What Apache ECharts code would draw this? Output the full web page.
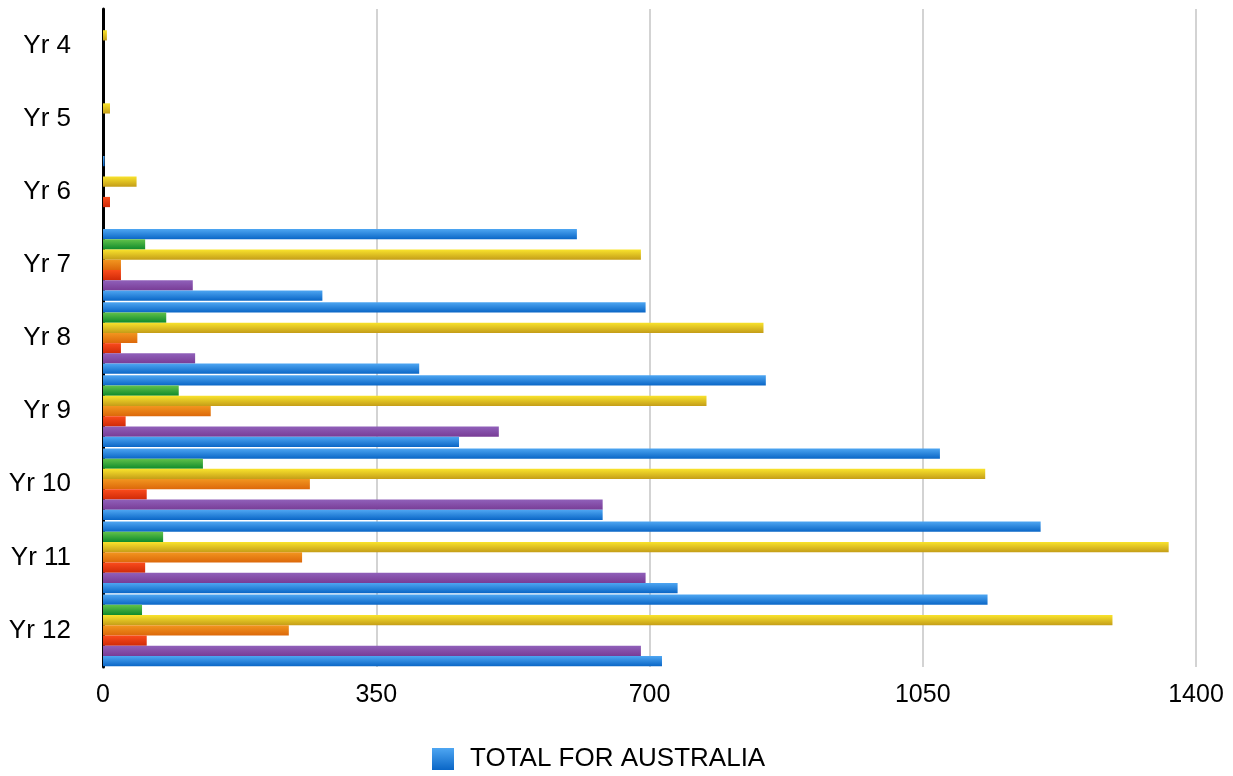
<!DOCTYPE html>
<html>
<head>
<meta charset="utf-8">
<script src="https://cdn.jsdelivr.net/npm/echarts@6/dist/echarts.min.js"></script>
<style>
html,body{margin:0;padding:0;background:#fff;}
#chart{width:1233px;height:776px;}
</style>
</head>
<body>
<div id="chart"></div>
<script>
var categories = ['Yr 4','Yr 5','Yr 6','Yr 7','Yr 8','Yr 9','Yr 10','Yr 11','Yr 12'];
var xTicks = [0, 350, 700, 1050, 1400];

var blueA  = [0, 0, 2, 607, 695, 849, 1072, 1201, 1133];
var green  = [0, 0, 0, 54, 81, 97, 128, 77, 50];
var yellow = [5, 9, 43, 689, 846, 773, 1130, 1365, 1293];
var orange = [0, 0, 0, 23, 44, 138, 265, 255, 238];
var red    = [0, 0, 9, 23, 23, 29, 56, 54, 56];
var purple = [0, 0, 0, 115, 118, 507, 640, 695, 689];
var blueB  = [0, 0, 0, 281, 405, 456, 640, 736, 716];

var seriesNames = ['TOTAL FOR AUSTRALIA','Series 2','Series 3','Series 4','Series 5','Series 6','Series 7'];
var seriesData = [blueA, green, yellow, orange, red, purple, blueB];
var gradients = [
  ['#4ea6f2','#0a66c6'],
  ['#62c24a','#0e8a2c'],
  ['#f9e32c','#c49d18'],
  ['#f2961f','#dc680a'],
  ['#fa4c1c','#d02a08'],
  ['#9060ba','#783c96'],
  ['#4ea6f2','#0a66c6']
];

function grad(c){
  return new echarts.graphic.LinearGradient(0,0,0,1,[{offset:0,color:c[0]},{offset:1,color:c[1]}]);
}

var font = '"Liberation Sans", Arial, Helvetica, sans-serif';

var series = seriesData.map(function(d,i){
  return {
    name: seriesNames[i],
    type: 'bar',
    data: d,
    barGap: '0%',
    barCategoryGap: '2%',
    itemStyle: {color: grad(gradients[i])},
    silent: true
  };
});

var chart = echarts.init(document.getElementById('chart'), null, {renderer:'canvas'});
chart.setOption({
  animation: false,
  backgroundColor: '#ffffff',
  grid: {left: 103, right: 37, top: 9, bottom: 109, containLabel: false},
  legend: {
    data: ['TOTAL FOR AUSTRALIA'],
    top: 746,
    left: 432,
    padding: 0,
    icon: 'rect',
    itemWidth: 22,
    itemHeight: 22,
    itemGap: 16,
    textStyle: {fontFamily: font, fontSize: 26, color: '#000', padding: [0, 0, 0, 11]}
  },
  xAxis: {
    type: 'value',
    min: xTicks[0],
    max: xTicks[xTicks.length-1],
    interval: xTicks[1]-xTicks[0],
    axisLine: {show: false},
    axisTick: {show: false},
    splitLine: {show: true, lineStyle: {color: '#c4c4c4', width: 1.5}},
    axisLabel: {fontFamily: font, fontSize: 25, color: '#000', margin: 16,
      formatter: function(v){ return String(v); }}
  },
  yAxis: {
    type: 'category',
    data: categories,
    inverse: true,
    axisLine: {show: true, lineStyle: {color: '#000', width: 3}},
    axisTick: {show: false},
    axisLabel: {fontFamily: font, fontSize: 26, color: '#000', margin: 32}
  },
  series: series
});
</script>
</body>
</html>
